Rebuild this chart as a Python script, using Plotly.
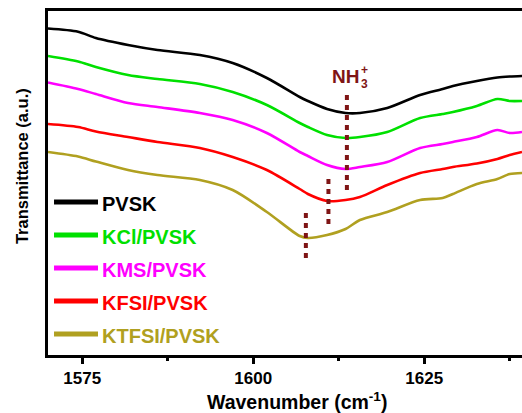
import plotly.graph_objects as go

# ---- data ----
wavenumber = [1570.0, 1574.4, 1577.0, 1581.7, 1586.0, 1592.2, 1597.0, 1602.0, 1606.8, 1608.0,
              1610.8, 1613.5, 1615.6, 1619.6, 1624.4, 1627.7, 1629.2, 1632.7, 1635.7, 1637.5, 1639.3]

pvsk = [326.5, 323.3, 317, 310, 305, 300, 292, 277, 258, 254, 246, 242, 242, 247, 260, 266, 269, 274, 277.5, 278.5, 279]
kcl_pvsk = [299, 293.5, 288, 280, 276, 271, 263, 250, 232, 228, 220, 217, 218, 223, 237, 241, 243, 249, 256, 254, 254]
kms_pvsk = [272.5, 266, 261, 252, 248, 242, 235, 222, 203, 199, 190, 186, 188, 193, 207, 211, 213, 218, 225, 222, 223]
kfsi_pvsk = [231, 228, 223.5, 218, 213, 207, 198, 185, 166, 161, 154, 155, 158, 170, 182, 186, 188, 191.5, 196, 200, 203]
ktfsi_pvsk = [203, 198.5, 193.5, 185, 180, 175, 165, 143, 119, 117, 120, 126, 135, 143, 155, 157, 161, 171, 176, 181, 182]

series_names = ["PVSK", "KCl/PVSK", "KMS/PVSK", "KFSI/PVSK", "KTFSI/PVSK"]
series_values = [pvsk, kcl_pvsk, kms_pvsk, kfsi_pvsk, ktfsi_pvsk]
series_colors = ["#000000", "#00E000", "#FF00FF", "#FF0000", "#B0A020"]

# peak position markers (dotted lines)
peak_x = [1613.7, 1611.0, 1607.7]
peak_top = [260, 176, 142]
peak_bottom = [165, 129, 94]

x_ticks = [1575, 1600, 1625]
x_minor_ticks = [1587.5, 1612.5, 1637.5]

x_title = "Wavenumber (cm<sup>-1</sup>)"
y_title = "Transmittance (a.u.)"

MARK = "#7F1515"
FONT = "Liberation Sans"

fig = go.Figure()

for name, vals, col in zip(series_names, series_values, series_colors):
    fig.add_trace(go.Scatter(x=wavenumber, y=vals, mode="lines", name=name,
                             line=dict(color=col, width=2.6, shape="spline", smoothing=0.8),
                             showlegend=False))

for px, pt, pb in zip(peak_x, peak_top, peak_bottom):
    fig.add_trace(go.Scatter(x=[px, px], y=[pt, pb], mode="lines", showlegend=False,
                             line=dict(color=MARK, width=4, dash="5px,5px")))

# NH3+ label
fig.add_annotation(x=1613.5, y=279, text="<b>NH</b>", showarrow=False,
                   font=dict(family=FONT, size=19, color=MARK, weight="bold"),
                   xanchor="center", yanchor="middle")
fig.add_annotation(x=1616.3, y=285, text="<b>+</b>", showarrow=False,
                   font=dict(family=FONT, size=12, color=MARK, weight="bold"),
                   xanchor="center", yanchor="middle")
fig.add_annotation(x=1616.3, y=271, text="<b>3</b>", showarrow=False,
                   font=dict(family=FONT, size=12, color=MARK, weight="bold"),
                   xanchor="center", yanchor="middle")

# custom legend inside plot area
leg_x0, leg_x1, leg_tx = 0.0127, 0.1055, 0.110
leg_y_top, leg_step = 0.445, 0.096
for i, (name, col) in enumerate(zip(series_names, series_colors)):
    yy = leg_y_top - i * leg_step
    fig.add_shape(type="line", xref="paper", yref="paper", x0=leg_x0, x1=leg_x1, y0=yy, y1=yy,
                  line=dict(color=col, width=5))
    fig.add_annotation(xref="paper", yref="paper", x=leg_tx, y=yy, text=name,
                       showarrow=False, xanchor="left", yanchor="middle", yshift=-2,
                       font=dict(family=FONT, size=20, color=col, weight="bold"))

# axis titles (positioned as in the reference)
fig.add_annotation(xref="paper", yref="paper", x=0.525, y=-0.134, text=x_title, showarrow=False,
                   xanchor="center", yanchor="middle",
                   font=dict(family=FONT, size=19.5, color="black", weight="bold"))
fig.add_annotation(xref="paper", yref="paper", x=-0.0549, y=0.549, text=y_title, showarrow=False,
                   xanchor="center", yanchor="middle", textangle=-90,
                   font=dict(family=FONT, size=16.5, color="black", weight="bold"))

fig.update_layout(
    width=522, height=413,
    margin=dict(l=48, r=0, t=11, b=58),
    paper_bgcolor="white", plot_bgcolor="white",
    font=dict(family=FONT, color="black"),
    xaxis=dict(range=[1570, 1639.3], tickvals=x_ticks, ticks="outside", ticklen=6, tickwidth=2.5,
               tickcolor="black", showline=True, linewidth=2.6, linecolor="black", mirror=True,
               showgrid=False, zeroline=False, automargin=False, ticklabelstandoff=0,
               tickfont=dict(family=FONT, size=17, color="black", weight="bold"),
               minor=dict(tickvals=x_minor_ticks, ticks="outside", ticklen=3,
                          tickwidth=2.5, tickcolor="black")),
    yaxis=dict(range=[0, 344], showticklabels=False, ticks="", showline=True, linewidth=2.6,
               linecolor="black", mirror=False, showgrid=False, zeroline=False, automargin=False),
)

fig.write_html("out.html")
